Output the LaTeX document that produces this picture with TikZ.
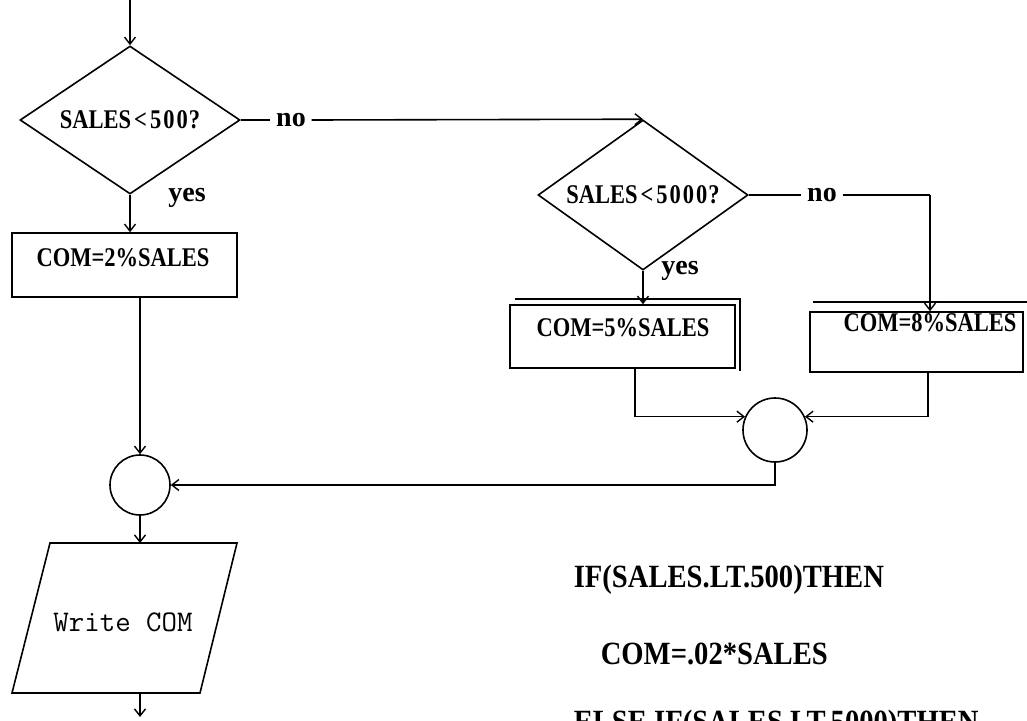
\documentclass[tikz,border=0pt]{standalone}
\usepackage{fontspec}
\setmainfont{Liberation Serif}
\usetikzlibrary{shapes.geometric,arrows.meta}
\newcommand{\tallt}[1]{\scalebox{1}[1.2]{#1}}
\newcommand{\tallc}[1]{\scalebox{1.06}[1.2]{#1}}
\begin{document}
\begin{tikzpicture}[x=1pt,y=-1pt,
  line width=1.6pt,
  arr/.style={-{Straight Barb[length=7pt,width=11pt,line width=1.4pt]}},
  dec/.style={diamond, draw, inner sep=0pt, aspect=1.5},
  boxr/.style={rectangle, draw, inner sep=0pt},
  lbl/.style={font=\bfseries\fontsize{22.5}{27}\selectfont, inner sep=0pt},
  yn/.style={font=\bfseries\fontsize{28}{32}\selectfont, inner sep=0pt},
  code/.style={font=\bfseries\fontsize{27}{32}\selectfont, inner sep=0pt, anchor=base west},
  junc/.style={circle, draw, inner sep=0pt},
]
\useasboundingbox (0,0) rectangle (1027,720);
\clip (0,0) rectangle (1027,720);

% decisions
\coordinate (start) at (130,0);
\node[dec, lbl, minimum width=220pt, minimum height=148pt] (d1) at (130,120) {\tallt{SALES\kern3pt<\kern3pt5\kern2pt0\kern2pt0\kern1pt?}};
\node[dec, lbl, minimum width=210pt, minimum height=150pt] (d2) at (643,195) {\tallt{SALES\kern3pt<\kern3pt5\kern2pt0\kern2pt0\kern2pt0\kern1pt?}};

% labels yes / no
\node[yn, inner xsep=5pt] (no1) at (291,120) {no};
\node[yn, inner xsep=5pt] (no2) at (822,195) {no};
\node[yn, anchor=base] (yes1) at (187,201) {yes};
\node[yn, anchor=base] (yes2) at (680,274) {yes};

% process boxes
\node[boxr, minimum width=225pt, minimum height=64pt] (b1) at (124.5,265) {};
\node[lbl] (t1) at (123,258) {\tallt{COM=2\%SALES}};
\node[boxr, minimum width=225pt, minimum height=63pt] (b2) at (622.5,336.5) {};
\node[lbl] (t2) at (623,328) {\tallt{COM=5\%SALES}};
\node[boxr, minimum width=213pt, minimum height=60pt] (b3) at (916.5,342) {};
\node[lbl] (t3) at (930,323) {\tallt{COM=8\%SALES}};
% doubled edges of the boxes
\draw (515,299) -- (740,299) -- (740,371);
\draw (813,302) -- (1027,302);

% connector circles
\node[junc, minimum size=64pt] (c2) at (775,430) {};
\node[junc, minimum size=60pt] (c1) at (140,485) {};

% output parallelogram
\draw (50,543) -- (237,543) -- (200,693) -- (12,693) -- cycle;
\node[font=\ttfamily\addfontfeature{FakeBold=1.5}\fontsize{30}{34}\selectfont, inner sep=0pt] (wr) at (123,622) {Write COM};
\coordinate (wtop) at (140,543);
\coordinate (wbot) at (140,693);
\coordinate (wend) at (140,717);

% helper coordinates
\coordinate (k1) at (930,195);
\coordinate (x635) at (635,0);
\coordinate (x928) at (928,0);

% connectors
\draw[arr] (start) -- (d1.north);
\draw (d1.east) -- (no1.west);
\draw[arr] (no1.east) -- (d2.north);
\draw[arr] (d1.south) -- (d1.south |- b1.north);
\draw[arr] (d2.south) -- (d2.south |- b2.north);
\draw (d2.east) -- (no2.west);
\draw (no2.east) -- (k1);
\draw[arr] (k1) -- (k1 |- b3.north);
\draw[arr] (b2.south -| x635) |- (c2.156);
\draw[arr] (b3.south -| x928) |- (c2.24);
\draw[arr] (c2.south) |- (c1.east);
\draw[arr] (c1.north |- b1.south) -- (c1.north);
\draw[arr] (c1.south) -- (wtop);
\draw[arr] (wbot) -- (wend);

% program text
\node[code] (l1) at (573,587) {\tallc{IF(SALES.LT.500)THEN}};
\node[code] (l2) at (600,664) {\tallc{COM=.02*SALES}};
\node[code] (l3) at (573,732) {\tallc{ELSE IF(SALES.LT.5000)THEN}};
\end{tikzpicture}
\end{document}
